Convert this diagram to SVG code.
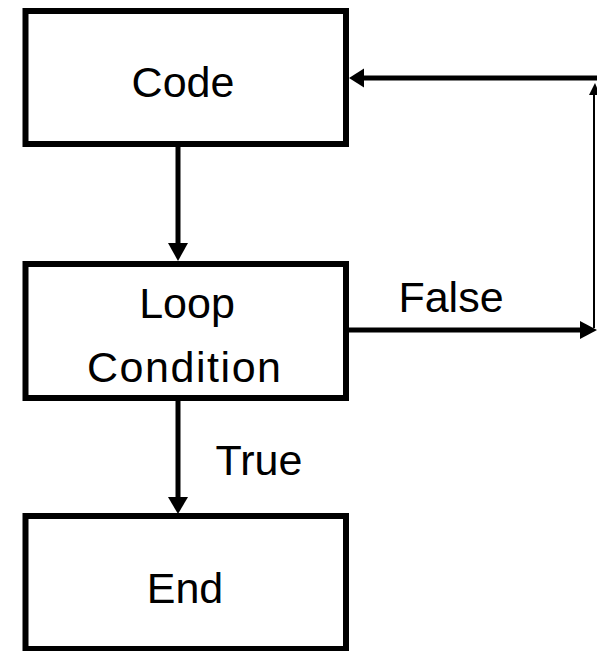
<svg xmlns="http://www.w3.org/2000/svg" width="597" height="651" viewBox="0 0 597 651">
<style>
.box{fill:#fff;stroke:#000;stroke-width:6}
.lbl{font-family:"Liberation Sans",Arial,sans-serif;font-size:43px;fill:#000;text-anchor:middle}
.edge{stroke:#000;stroke-width:5;fill:none}
.thin{stroke:#000;stroke-width:2;fill:none}
.head{fill:#000}
</style>
<rect width="597" height="651" fill="#fff"/>
<g id="connectors">
  <line class="edge" x1="178" y1="147" x2="178" y2="245"/>
  <polygon class="head" points="168,243 188,243 178,261"/>
  <line class="edge" x1="178" y1="401" x2="178" y2="500"/>
  <polygon class="head" points="168,497 188,497 178,514"/>
  <line class="edge" x1="349" y1="330" x2="582" y2="330"/>
  <polygon class="head" points="580,321 580,339 597,330"/>
  <line class="thin" x1="594" y1="328" x2="594" y2="94"/>
  <polygon class="head" points="589,95 600,95 595,83"/>
  <line class="edge" x1="597" y1="78" x2="362" y2="78"/>
  <polygon class="head" points="364,68.5 364,87.5 349,78"/>
  <text class="lbl" x="451" y="312">False</text>
  <text class="lbl" x="259" y="475">True</text>
</g>
<g id="code">
  <rect class="box" x="25.5" y="11" width="320.5" height="133"/>
  <text class="lbl" x="183" y="97">Code</text>
</g>
<g id="loop">
  <rect class="box" x="25.5" y="264" width="320.5" height="134"/>
  <text class="lbl" x="187" y="318">Loop</text>
  <text class="lbl" x="184" y="382" textLength="194" lengthAdjust="spacing">Condition</text>
</g>
<g id="end">
  <rect class="box" x="25.5" y="516" width="320.5" height="133"/>
  <text class="lbl" x="185" y="603">End</text>
</g>
</svg>
